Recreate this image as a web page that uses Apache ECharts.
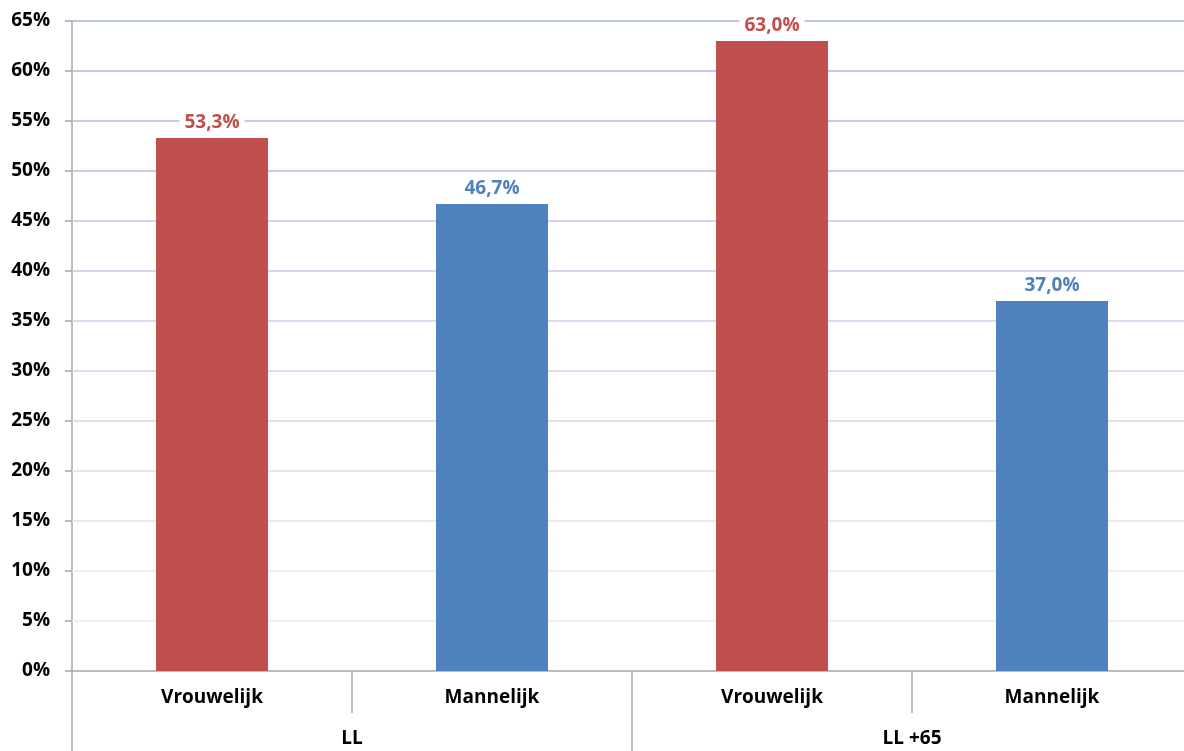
<!DOCTYPE html>
<html><head><meta charset="utf-8">
<script src="https://cdn.jsdelivr.net/npm/echarts@6/dist/echarts.min.js"></script>
<style>html,body{margin:0;padding:0;background:#fff}#c{width:1184px;height:751px}</style>
</head><body><div id="c"></div>
<script>
const categories = ['Vrouwelijk', 'Mannelijk', 'Vrouwelijk', 'Mannelijk'];
const groups = ['LL', 'LL +65'];
const values = [53.3, 46.7, 63.0, 37.0];
const barColors = ['#C0504D', '#4F81BD', '#C0504D', '#4F81BD'];
const gridValues = [5, 10, 15, 20, 25, 30, 35, 40, 45, 50, 55, 60, 65];
const gridColors = ['#e9eef8','#e3e9f6','#dde4f3','#d6dff1','#d0daef','#cad5ed','#c4d1eb','#beccea','#b8c7e8','#b2c2e6','#acbee4','#a7bae2','#a2b6e0'];
const FONT = '"Open Sans", Lato, sans-serif';

const chart = echarts.init(document.getElementById('c'), null, {renderer: 'canvas'});
chart.setOption({
  animation: false,
  grid: {left: 72, width: 1120, top: 21, bottom: 80, containLabel: false, outerBoundsMode: 'none'},
  xAxis: [{
    type: 'category', data: categories, position: 'bottom',
    axisLine: {show: true, lineStyle: {color: '#a6a6a6', width: 1.5}},
    axisTick: {show: true, alignWithLabel: false, length: 42, lineStyle: {color: '#a6a6a6', width: 1.5}},
    axisLabel: {margin: 17, color: '#000', fontFamily: FONT, fontWeight: 'bold', fontSize: 19}
  }, {
    type: 'category', data: groups, position: 'bottom', offset: 0,
    axisLine: {show: false},
    axisTick: {show: true, length: 80, lineStyle: {color: '#a6a6a6', width: 1.5}},
    axisLabel: {margin: 58, color: '#000', fontFamily: FONT, fontWeight: 'bold', fontSize: 19}
  }],
  yAxis: {
    type: 'value', min: 0, max: 65, interval: 5,
    axisLine: {show: true, lineStyle: {color: '#a6a6a6', width: 1.5}},
    axisTick: {show: true, length: 7, lineStyle: {color: '#a6a6a6', width: 1.5}},
    axisLabel: {formatter: '{value}%', margin: 22, color: '#000', fontFamily: FONT, fontWeight: 'bold', fontSize: 19},
    splitLine: {show: false}
  },
  series: [{
    type: 'line', data: [], z: 1, silent: true,
    markLine: {
      silent: true, z: 1, symbol: 'none', label: {show: false}, animation: false,
      data: gridValues.map((v, i) => ({yAxis: v, lineStyle: {color: gridColors[i], type: 'solid', width: 1.5}}))
    }
  }, {
    type: 'bar', xAxisIndex: 0, barWidth: '40%', z: 3,
    data: values.map((v, i) => ({value: v, itemStyle: {color: barColors[i]},
      label: {color: barColors[i]}})),
    label: {
      show: true, position: 'top', distance: 6,
      fontFamily: FONT, fontWeight: 'bold', fontSize: 19,
      backgroundColor: '#fff', padding: [0, 5],
      formatter: p => p.value.toFixed(1).replace('.', ',') + '%'
    }
  }]
});
</script></body></html>
